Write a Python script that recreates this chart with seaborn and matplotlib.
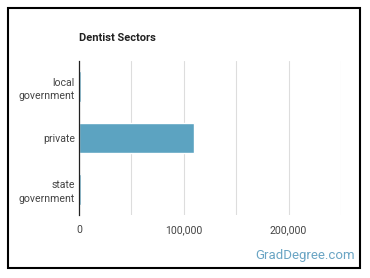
import pandas as pd
import seaborn as sns
import matplotlib.pyplot as plt
from matplotlib.patches import Rectangle
from matplotlib.ticker import FuncFormatter, MultipleLocator

sectors = ["local\ngovernment", "private", "state\ngovernment"]
workers = [1500, 110000, 2000]

df = pd.DataFrame({"Sector": sectors, "Workers": workers})

sns.set_style("white")
plt.rcParams["font.family"] = ["Roboto", "DejaVu Sans"]

fig = plt.figure(figsize=(3.7, 2.78), dpi=100)
ax = fig.add_axes([0.2135, 0.2266, 0.708, 0.554])

sns.barplot(data=df, x="Workers", y="Sector", orient="h", color="#5ca3c1",
            saturation=1, width=0.6, ax=ax)

ax.set_xlim(0, 250000)
ax.set_ylim(2.5, -0.5)
ax.xaxis.set_major_locator(MultipleLocator(100000))
ax.xaxis.set_minor_locator(MultipleLocator(50000))
ax.xaxis.set_major_formatter(FuncFormatter(lambda v, p: f"{int(v):,}"))
ax.grid(axis="x", which="both", color="#dddddd", linewidth=0.8)
ax.set_axisbelow(True)
for s in ["top", "right", "bottom"]:
    ax.spines[s].set_visible(False)
ax.spines["left"].set_color("#222222")
ax.spines["left"].set_linewidth(0.9)
ax.set_xlabel("")
ax.set_ylabel("")
ax.tick_params(axis="both", which="both", length=0, labelsize=7.6, labelcolor="#444444")
ax.tick_params(axis="x", pad=7)
ax.tick_params(axis="y", pad=3)
for lab in ax.get_yticklabels():
    lab.set_horizontalalignment("right")
    lab.set_multialignment("right")
    lab.set_linespacing(1.45)

fig.text(79 / 370, 1 - 38 / 278, "Dentist Sectors", fontsize=8, fontweight="bold",
         color="#222222", va="center", ha="left")
fig.text(355 / 370, 1 - 255 / 278, "GradDegree.com", fontsize=9.5, color="#6aa5c4",
         va="center", ha="right")
fig.patches.append(Rectangle((8 / 370, 10 / 278), 352 / 370, 260 / 278, transform=fig.transFigure,
                             fill=False, edgecolor="black", linewidth=1.5))

fig.savefig("out.png", dpi=100)
